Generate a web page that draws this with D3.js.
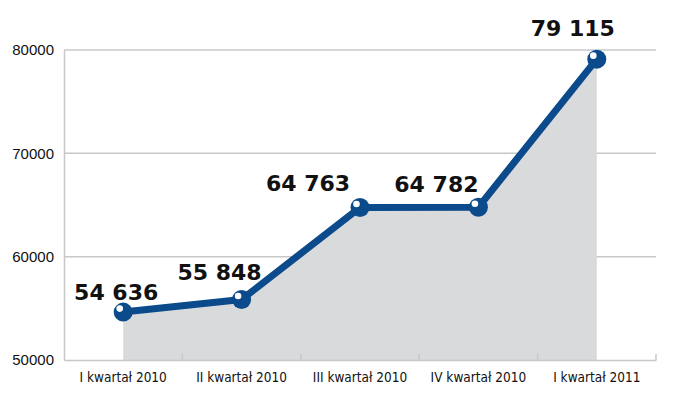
<!DOCTYPE html>
<html>
<head>
<meta charset="utf-8">
<script src="https://cdn.jsdelivr.net/npm/d3@7"></script>
<style>
  body { margin: 0; background: #fff; }
  svg { display: block; }
  .tick-y { font-family: 'Liberation Sans', Arial, sans-serif; font-size: 15px; fill: #111; }
  .tick-x { font-family: 'DejaVu Sans Condensed', sans-serif; font-size: 13.5px; fill: #111; }
  .value-label { font-family: 'DejaVu Sans', sans-serif; font-weight: bold; font-size: 22px; fill: #111; }
</style>
</head>
<body>
<svg id="chart" width="700" height="395"></svg>
<script>
const categories = ['I kwartał 2010', 'II kwartał 2010', 'III kwartał 2010', 'IV kwartał 2010', 'I kwartał 2011']
const values = [54636, 55848, 64763, 64782, 79115]
const valueLabels = ['54 636', '55 848', '64 763', '64 782', '79 115']
const yTicks = [50000, 60000, 70000, 80000]

// label placement relative to each point (layout only)
const labelOffsets = [[-7, -20], [-22, -27], [-52, -24], [-42, -23], [-24, -31]]

const margins = {left: 64, top: 50, right: 44, bottom: 35}
const svg = d3.select('#chart')
const w = 700 - margins.left - margins.right
const h = 395 - margins.top - margins.bottom

const g = svg.append('g')
  .attr('transform', `translate(${margins.left}, ${margins.top})`)

const x = d3.scaleBand().domain(categories).range([0, w])
const y = d3.scaleLinear().domain([50000, 80000]).range([h, 0])
const cx = (d) => x(d) + x.bandwidth() / 2

// gridlines
g.append('g')
  .selectAll('line')
  .data(yTicks.slice(1))
  .enter()
  .append('line')
  .attr('x1', 0)
  .attr('x2', w)
  .attr('y1', (d) => y(d))
  .attr('y2', (d) => y(d))
  .attr('stroke', '#c8c8c8')
  .attr('stroke-width', 1.5)

// area under the line
const pts = categories.map((c, i) => ({c: c, v: values[i]}))
const area = d3.area()
  .x((d) => cx(d.c))
  .y0(y(50000))
  .y1((d) => y(d.v))
g.append('path')
  .datum(pts)
  .attr('d', area)
  .attr('fill', '#d9dadc')

// axes
const leftAxis = d3.axisLeft(y).tickValues(yTicks).tickSize(0).tickPadding(10).tickFormat(d3.format('d'))
const yAxis = g.append('g').call(leftAxis)
yAxis.select('.domain').attr('stroke', '#c8c8c8').attr('stroke-width', 1.5)
yAxis.selectAll('text').attr('class', 'tick-y').attr('fill', null).attr('font-family', null).attr('font-size', null)

const bottomAxis = d3.axisBottom(x).tickSize(0).tickPadding(12)
const xAxis = g.append('g').attr('transform', `translate(0, ${h})`).call(bottomAxis)
xAxis.select('.domain').attr('stroke', '#c8c8c8').attr('stroke-width', 1.5)
xAxis.selectAll('text').attr('class', 'tick-x').attr('fill', null).attr('font-family', null).attr('font-size', null)

// small separators between categories
g.append('g')
  .selectAll('line')
  .data(categories.slice(1).concat(['end']))
  .enter()
  .append('line')
  .attr('x1', (d) => d === 'end' ? w : x(d))
  .attr('x2', (d) => d === 'end' ? w : x(d))
  .attr('y1', h)
  .attr('y2', h - 6)
  .attr('stroke', '#c8c8c8')
  .attr('stroke-width', 1.5)

// the line
const line = d3.line().x((d) => cx(d.c)).y((d) => y(d.v))
g.append('path')
  .datum(pts)
  .attr('d', line)
  .attr('fill', 'none')
  .attr('stroke', '#0b4a8b')
  .attr('stroke-width', 7)
  .attr('stroke-linejoin', 'round')

// markers
const marks = g.append('g').selectAll('g').data(pts).enter().append('g')
  .attr('transform', (d) => `translate(${cx(d.c)}, ${y(d.v)})`)
marks.append('circle').attr('r', 9.5).attr('fill', '#0b4a8b')
marks.append('circle').attr('cx', -3.5).attr('cy', -3.5).attr('r', 3.3).attr('fill', '#fff')

// value labels
g.append('g')
  .selectAll('text')
  .data(pts)
  .enter()
  .append('text')
  .attr('class', 'value-label')
  .attr('text-anchor', 'middle')
  .attr('x', (d, i) => cx(d.c) + labelOffsets[i][0])
  .attr('y', (d, i) => y(d.v) + labelOffsets[i][1])
  .attr('dy', '0.36em')
  .text((d, i) => valueLabels[i])
</script>
</body>
</html>
